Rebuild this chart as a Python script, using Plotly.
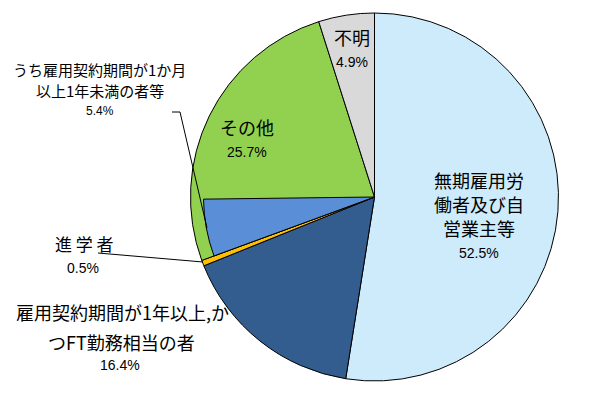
import plotly.graph_objects as go

# Data
labels = ["無期雇用労働者及び自営業主等", "雇用契約期間が1年以上,かつFT勤務相当の者", "進学者", "その他", "不明"]
values = [52.5, 16.4, 0.5, 25.7, 4.9]
colors = ["#CDEBFA", "#335C8F", "#FFC000", "#92D050", "#D9D9D9"]
sub_label = "うち雇用契約期間が1か月以上1年未満の者等"
sub_value = 5.4
sub_color = "#5A8ED6"

# page body has an 8px margin; work in screen pixels and convert
OFF = 8
W, H = 600 - OFF, 398 - OFF
cx, cy, r = 374.5 - OFF, 197 - OFF, 184
r_sub = 171

fig = go.Figure()
fig.add_trace(go.Pie(
    labels=labels, values=values, sort=False, direction="clockwise", rotation=0,
    marker=dict(colors=colors, line=dict(color="black", width=1)),
    textinfo="none", hoverinfo="label+percent", showlegend=False,
    domain=dict(x=[(cx - r) / W, (cx + r) / W], y=[1 - (cy + r) / H, 1 - (cy - r) / H]),
))
# sub-slice overlay (part of その他)
before = sum(values[:3])
after = sum(values) - before - sub_value
fig.add_trace(go.Pie(
    labels=["a", sub_label, "b"], values=[before, sub_value, after], sort=False,
    direction="clockwise", rotation=0,
    marker=dict(colors=["rgba(0,0,0,0)", sub_color, "rgba(0,0,0,0)"],
                line=dict(color=["rgba(0,0,0,0)", "black", "rgba(0,0,0,0)"], width=1)),
    textinfo="none", hoverinfo="skip", showlegend=False,
    domain=dict(x=[(cx - r_sub) / W, (cx + r_sub) / W], y=[1 - (cy + r_sub) / H, 1 - (cy - r_sub) / H]),
))

FONT = "Noto Sans CJK JP, Arial"
PFONT = "Liberation Sans, Arial"


def ann(text, x, y, size, font=FONT):
    fig.add_annotation(text=text, x=(x - OFF) / W, y=1 - (y - OFF) / H, xref="paper", yref="paper",
                       showarrow=False, xanchor="center", yanchor="middle",
                       font=dict(family=font, size=size, color="black"))


def seg(x0, y0, x1, y1):
    fig.add_shape(type="line", xref="paper", yref="paper",
                  x0=(x0 - OFF) / W, y0=1 - (y0 - OFF) / H, x1=(x1 - OFF) / W, y1=1 - (y1 - OFF) / H,
                  line=dict(color="black", width=1))


# 無期
ann("無期雇用労", 479, 180, 18)
ann("働者及び自", 479, 204, 18)
ann("営業主等", 479, 228, 18)
ann(f"{values[0]}%", 479, 253, 14, PFONT)
# 不明
ann("不明", 352, 37, 18)
ann(f"{values[4]}%", 352, 62, 14, PFONT)
# その他
ann("その他", 247, 127, 18)
ann(f"{values[3]}%", 247, 152, 14, PFONT)
# うち
ann("うち雇用契約期間が1か月", 99, 70, 15)
ann("以上1年未満の者等", 100, 90, 15)
ann(f"{sub_value}%", 100, 111, 12, PFONT)
seg(172, 112, 180, 112)
seg(180, 112, 207, 228)
# 進学者
ann("進 学 者", 84, 243, 17)
ann(f"{values[2]}%", 83, 268, 14, PFONT)
seg(98, 253, 203, 262)
# 雇用契約期間が1年以上
ann("雇用契約期間が1年以上,か", 122, 312, 18)
ann("つFT勤務相当の者", 121, 342, 18)
ann(f"{values[1]}%", 120, 365, 14, PFONT)

fig.update_layout(width=W, height=H, margin=dict(l=0, r=0, t=0, b=0),
                  paper_bgcolor="white", plot_bgcolor="white")
fig.write_html("out.html")
